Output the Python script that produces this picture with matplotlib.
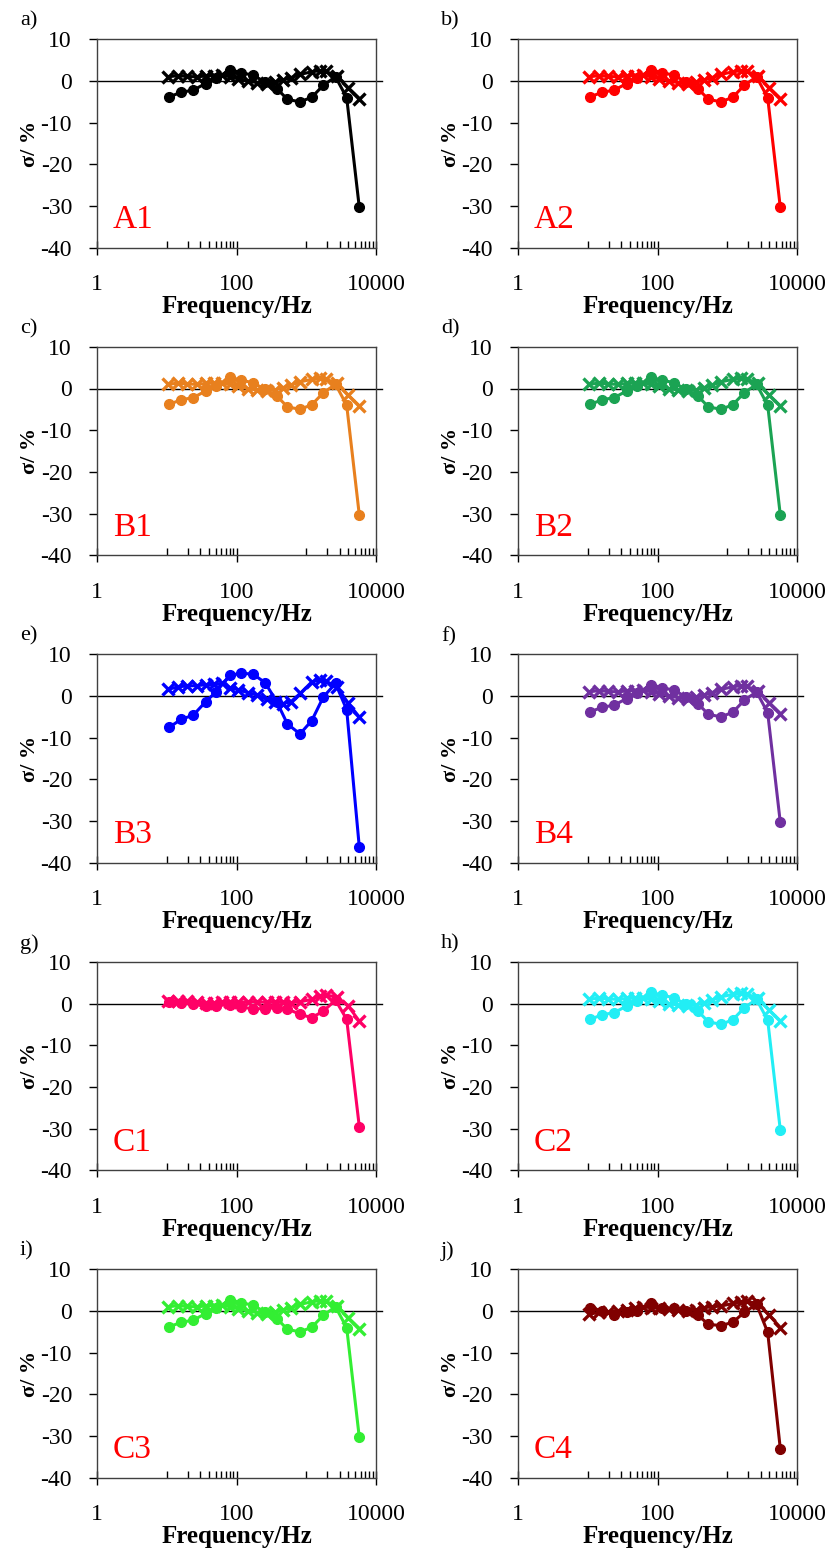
import matplotlib
matplotlib.use('Agg')
import matplotlib.pyplot as plt
from matplotlib.ticker import FixedLocator, NullFormatter

plt.rcParams['font.family'] = ['Liberation Serif', 'DejaVu Serif']
plt.rcParams['axes.unicode_minus'] = False

# frequencies (Hz) for the filled-circle and cross series
freq_circ = [10.9, 16, 24, 36, 51, 81, 117, 171, 257, 378, 537, 813, 1200, 1762, 2630, 3800, 5760]
freq_cross = [10.5, 14.5, 19.5, 27, 36, 47, 62, 81, 106, 145, 200, 270, 360, 460, 600, 820,
              1200, 1580, 1900, 2750, 4000, 5800]

# sigma (%) values
circ_base = [-3.8, -2.7, -2.2, -0.6, 0.6, 2.7, 2.0, 1.4, -0.2, -1.8, -4.4, -5.0, -3.9, -1.0, 1.0, -4.0, -30.3]
cross_base = [1.0, 1.3, 1.1, 1.0, 1.2, 1.3, 1.4, 1.0, 0.5, 0.0, -0.4, -0.6, -0.3, 0.2, 0.8,
              1.6, 2.2, 2.5, 2.3, 1.2, -1.6, -4.2]

circ_B3 = [-7.5, -5.6, -4.6, -1.4, 1.0, 5.0, 5.4, 5.3, 3.2, -1.4, -6.7, -9.1, -5.9, -0.2, 3.0, -3.3, -36.2]
cross_B3 = [1.6, 2.2, 2.4, 2.5, 2.7, 2.8, 3.0, 2.0, 1.5, 0.8, 0.2, -0.8, -1.4, -1.8, -1.4, 0.6,
            3.4, 3.8, 3.6, 2.2, -1.7, -5.1]

circ_C1 = [0.3, 0.2, -0.2, -0.5, -0.5, -0.3, -0.8, -1.3, -1.2, -1.0, -1.3, -2.6, -3.4, -1.8, 0.8, -3.8, -29.5]
cross_C1 = [0.6, 0.6, 0.5, 0.3, 0.2, 0.2, 0.3, 0.4, 0.3, 0.4, 0.4, 0.3, 0.3, 0.3, 0.2, 0.4,
            1.0, 1.9, 2.0, 1.6, -0.6, -4.3]

circ_C4 = [0.6, 0.1, -1.0, -0.3, 0.0, 1.8, 0.8, 0.6, 0.0, -1.0, -3.2, -3.5, -2.7, -0.3, 1.6, -5.1, -33.0]
cross_C4 = [-0.8, -0.3, -0.2, 0.1, 0.3, 0.8, 1.0, 0.8, 0.6, 0.4, 0.2, 0.0, 0.3, 0.8, 1.0, 1.2,
            1.8, 2.2, 2.3, 1.8, -1.0, -4.0]

letters = ['a)', 'b)', 'c)', 'd)', 'e)', 'f)', 'g)', 'h)', 'i)', 'j)']
names = ['A1', 'A2', 'B1', 'B2', 'B3', 'B4', 'C1', 'C2', 'C3', 'C4']
colors = ['#000000', '#FF0000', '#E8801E', '#1BA353', '#0000FF', '#7030A0',
          '#FF0066', '#22EEF5', '#33EE33', '#800000']
circ_sets = [circ_base, circ_base, circ_base, circ_base, circ_B3, circ_base,
             circ_C1, circ_base, circ_base, circ_C4]
cross_sets = [cross_base, cross_base, cross_base, cross_base, cross_B3, cross_base,
              cross_C1, cross_base, cross_base, cross_C4]

W, H = 835, 1550
fig = plt.figure(figsize=(W / 100, H / 100), dpi=100)

ax_w, ax_h = 279, 208.5
lefts = [97, 518]
tops = [39.3, 346.8, 654.3, 961.8, 1269.3]

for i in range(10):
    row, col = divmod(i, 2)
    x0, y0 = lefts[col], tops[row]
    ax = fig.add_axes([x0 / W, 1 - (y0 + ax_h) / H, ax_w / W, ax_h / H])
    c = colors[i]
    ax.axhline(0, xmax=1.02, color='black', lw=1, zorder=1, clip_on=False)
    ax.plot(freq_cross, cross_sets[i], color=c, lw=2.2, marker='x', ms=8, mew=2.4, zorder=3)
    ax.plot(freq_circ, circ_sets[i], color=c, lw=2.2, marker='o', ms=7, zorder=3)
    ax.set_xscale('log')
    ax.set_xlim(1, 10000)
    ax.set_ylim(-40, 10)
    ax.set_yticks([10, 0, -10, -20, -30, -40])
    ax.set_xticks([1, 100, 10000])
    ax.set_xticklabels(['1', '100', '10000'])
    ax.xaxis.set_minor_locator(FixedLocator([10, 20, 30, 40, 50, 60, 70, 80, 90,
                                             1000, 2000, 3000, 4000, 5000, 6000, 7000, 8000, 9000]))
    ax.xaxis.set_minor_formatter(NullFormatter())
    ax.tick_params(axis='x', which='major', direction='inout', length=10, width=1,
                   labelsize=17, pad=14)
    ax.tick_params(axis='x', which='minor', direction='in', length=5, width=1)
    ax.tick_params(axis='y', which='major', direction='out', length=6, width=1,
                   labelsize=17, pad=12)
    for s in ax.spines.values():
        s.set_color('#404040')
        s.set_linewidth(1)
    ax.set_xlabel('Frequency/Hz', fontsize=18, fontweight='bold', labelpad=0)
    ax.set_ylabel('σ/ %', fontsize=16, fontweight='bold')
    ax.yaxis.set_label_coords(-57 / ax_w, 0.5)
    ax.text(0.057, 0.094, names[i], transform=ax.transAxes, color='red', fontsize=24,
            ha='left', va='baseline')
    fig.text((x0 - 77) / W, 1 - (y0 - 18) / H, letters[i], fontsize=16, ha='left', va='center')

fig.savefig('out.png', dpi=100)
